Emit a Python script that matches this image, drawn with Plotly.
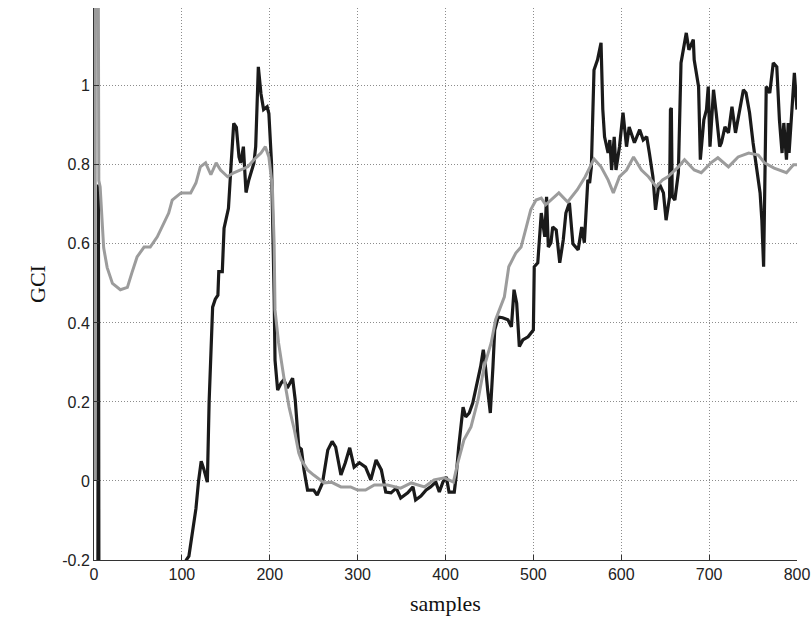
import plotly.graph_objects as go

# Black series (samples, GCI)
black_x = [4, 5, 6, 103, 105, 108, 112, 116, 119, 122, 125, 129, 131, 135, 138, 141, 142, 146, 148, 153,
           156, 159, 162, 165, 167, 170, 173, 176, 182, 184, 187, 190, 193, 197, 199, 202, 205, 206, 209, 213,
           216, 220, 226, 229, 233, 236, 239, 243, 250, 254, 260, 266, 271, 275, 281, 286, 291, 296, 302, 309,
           315, 321, 327, 332, 338, 344, 349, 357, 363, 366, 372, 378, 383, 389, 393, 397, 401, 404, 410, 412,
           415, 420, 423, 427, 431, 437, 440, 443, 445, 448, 451, 454, 456, 460, 465, 471, 475, 478, 481, 484,
           488, 494, 500, 501, 505, 509, 513, 515, 517, 520, 522, 526, 528, 530, 534, 537, 541, 545, 551, 555,
           558, 560, 562, 564, 566, 569, 573, 577, 579, 581, 585, 587, 589, 592, 594, 598, 602, 606, 609, 615,
           621, 625, 629, 632, 636, 639, 643, 648, 651, 655, 656, 657, 658, 661, 665, 668, 674, 677, 682, 683,
           688, 690, 694, 697, 699, 701, 705, 708, 712, 714, 718, 722, 726, 730, 733, 739, 742, 746, 750, 754,
           758, 760, 762, 763, 765, 769, 773, 777, 780, 783, 785, 788, 790, 791, 796, 797, 800]
black_y = [-1, 0.75, -1, -0.4, -0.2, -0.19, -0.13, -0.07, 0.0, 0.05, 0.03, -0.003, 0.2, 0.44, 0.46, 0.47, 0.53, 0.53, 0.64, 0.69,
           0.8, 0.905, 0.895, 0.82, 0.805, 0.846, 0.73, 0.76, 0.805, 0.846, 1.048, 0.98, 0.94, 0.947, 0.93, 0.805, 0.47, 0.306, 0.23, 0.248,
           0.256, 0.235, 0.26, 0.205, 0.086, 0.08, 0.028, -0.023, -0.023, -0.036, -0.005, 0.078, 0.1, 0.086, 0.015, 0.046, 0.084, 0.035, 0.046, 0.035,
           0.003, 0.053, 0.028, -0.028, -0.03, -0.018, -0.043, -0.03, -0.015, -0.048, -0.038, -0.023, -0.015, -0.003, -0.028, -0.003, 0.01, -0.028, -0.028, 0.01,
           0.086, 0.187, 0.162, 0.172, 0.197, 0.256, 0.29, 0.332, 0.3, 0.23, 0.172, 0.289, 0.382, 0.415, 0.413, 0.408, 0.39, 0.484, 0.45, 0.34,
           0.357, 0.365, 0.382, 0.542, 0.552, 0.678, 0.618, 0.719, 0.592, 0.603, 0.643, 0.635, 0.585, 0.552, 0.61, 0.678, 0.704, 0.6, 0.585, 0.643,
           0.603, 0.686, 0.762, 0.754, 0.795, 1.04, 1.066, 1.109, 0.94, 0.871, 0.83, 0.863, 0.787, 0.871, 0.787, 0.846, 0.932, 0.846, 0.896, 0.856,
           0.889, 0.863, 0.871, 0.83, 0.77, 0.686, 0.754, 0.729, 0.66, 0.719, 0.94, 0.944, 0.72, 0.711, 0.78, 1.058, 1.134, 1.091, 1.117, 1.066,
           0.998, 0.813, 0.914, 0.94, 0.998, 0.846, 0.99, 0.932, 0.846, 0.856, 0.896, 0.881, 0.947, 0.881, 0.914, 0.99, 0.982, 0.932, 0.856, 0.795,
           0.729, 0.66, 0.542, 0.694, 0.998, 0.982, 1.058, 1.048, 0.914, 0.83, 0.906, 0.813, 0.906, 0.83, 1.023, 1.033, 0.94]

# Gray series (samples, GCI)
gray_x = [1, 2, 4, 5.5, 7, 11, 15, 21, 30, 38, 43, 49, 57, 64, 72, 80, 85, 89, 99, 110,
          116, 121, 127, 133, 139, 144, 152, 159, 167, 175, 182, 190, 195, 199, 203, 205, 206, 210, 216, 222,
          228, 233, 236, 243, 250, 262, 270, 281, 292, 300, 309, 319, 334, 349, 361, 376, 387, 399, 409, 414,
          421, 429, 437, 444, 452, 457, 467, 472, 480, 486, 492, 497, 503, 509, 514, 520, 529, 539, 550, 559,
          569, 577, 585, 591, 598, 606, 614, 623, 631, 640, 647, 653, 665, 672, 683, 691, 702, 710, 722, 733,
          745, 756, 763, 774, 788, 796, 800]
gray_y = [0, 2, 2, 0.76, 0.744, 0.59, 0.54, 0.5, 0.484, 0.49, 0.526, 0.567, 0.592, 0.592, 0.618, 0.653, 0.678, 0.711, 0.729, 0.729,
          0.754, 0.795, 0.805, 0.775, 0.805, 0.787, 0.77, 0.78, 0.787, 0.795, 0.813, 0.83, 0.846, 0.82, 0.744, 0.6, 0.433, 0.35, 0.263, 0.187,
          0.129, 0.071, 0.053, 0.028, 0.015, -0.005, -0.003, -0.015, -0.015, -0.023, -0.023, -0.01, -0.01, -0.018, -0.005, -0.015, 0.003, 0.008, -0.003, 0.046,
          0.104, 0.137, 0.205, 0.289, 0.35, 0.408, 0.466, 0.542, 0.577, 0.592, 0.643, 0.686, 0.711, 0.716, 0.699, 0.711, 0.729, 0.706, 0.737, 0.77,
          0.815, 0.795, 0.762, 0.729, 0.77, 0.787, 0.82, 0.787, 0.77, 0.744, 0.762, 0.77, 0.795, 0.813, 0.787, 0.78, 0.805, 0.818, 0.795, 0.82,
          0.83, 0.825, 0.805, 0.792, 0.78, 0.8, 0.8]

x_ticks = [0, 100, 200, 300, 400, 500, 600, 700, 800]
y_ticks = [-0.2, 0, 0.2, 0.4, 0.6, 0.8, 1]
y_tick_labels = ["-0.2", "0", "0.2", "0.4", "0.6", "0.8", "1"]

fig = go.Figure()
fig.add_trace(go.Scatter(x=black_x, y=black_y, mode="lines",
                         line=dict(color="#1a1a1a", width=3.2), showlegend=False))
fig.add_trace(go.Scatter(x=gray_x, y=gray_y, mode="lines",
                         line=dict(color="#9c9c9c", width=3), showlegend=False))

tick_font = dict(family="Liberation Sans, Arial, sans-serif", size=16, color="#222222")
title_font = dict(family="Liberation Serif, Times New Roman, serif", size=22, color="#111111")

fig.update_layout(
    width=812, height=625,
    margin=dict(l=94, r=15, t=8, b=65),
    paper_bgcolor="white", plot_bgcolor="white",
    xaxis=dict(range=[0, 800], tickvals=x_ticks, ticktext=[str(v) for v in x_ticks],
               showgrid=True, gridcolor="#8c8c8c", griddash="1px,2px", gridwidth=1,
               showline=True, linecolor="#333333", linewidth=1,
               ticks="inside", ticklen=5, tickcolor="#333333",
               zeroline=False, tickfont=tick_font, automargin=False,
               title=dict(text="samples", font=title_font, standoff=13)),
    yaxis=dict(range=[-0.2, 1.197], tickvals=y_ticks, ticktext=y_tick_labels,
               showgrid=True, gridcolor="#8c8c8c", griddash="1px,2px", gridwidth=1,
               showline=True, linecolor="#333333", linewidth=1,
               ticks="inside", ticklen=5, tickcolor="#333333",
               zeroline=False, tickfont=tick_font, automargin=False,
               title=dict(text="GCI", font=title_font, standoff=10)),
)

# Remove the browser's default body margin so the 812x625 figure fills the window exactly.
fig.write_html("out.html",
               config={"displayModeBar": False},
               post_script="document.body.style.margin='0';document.body.style.overflow='hidden';")
